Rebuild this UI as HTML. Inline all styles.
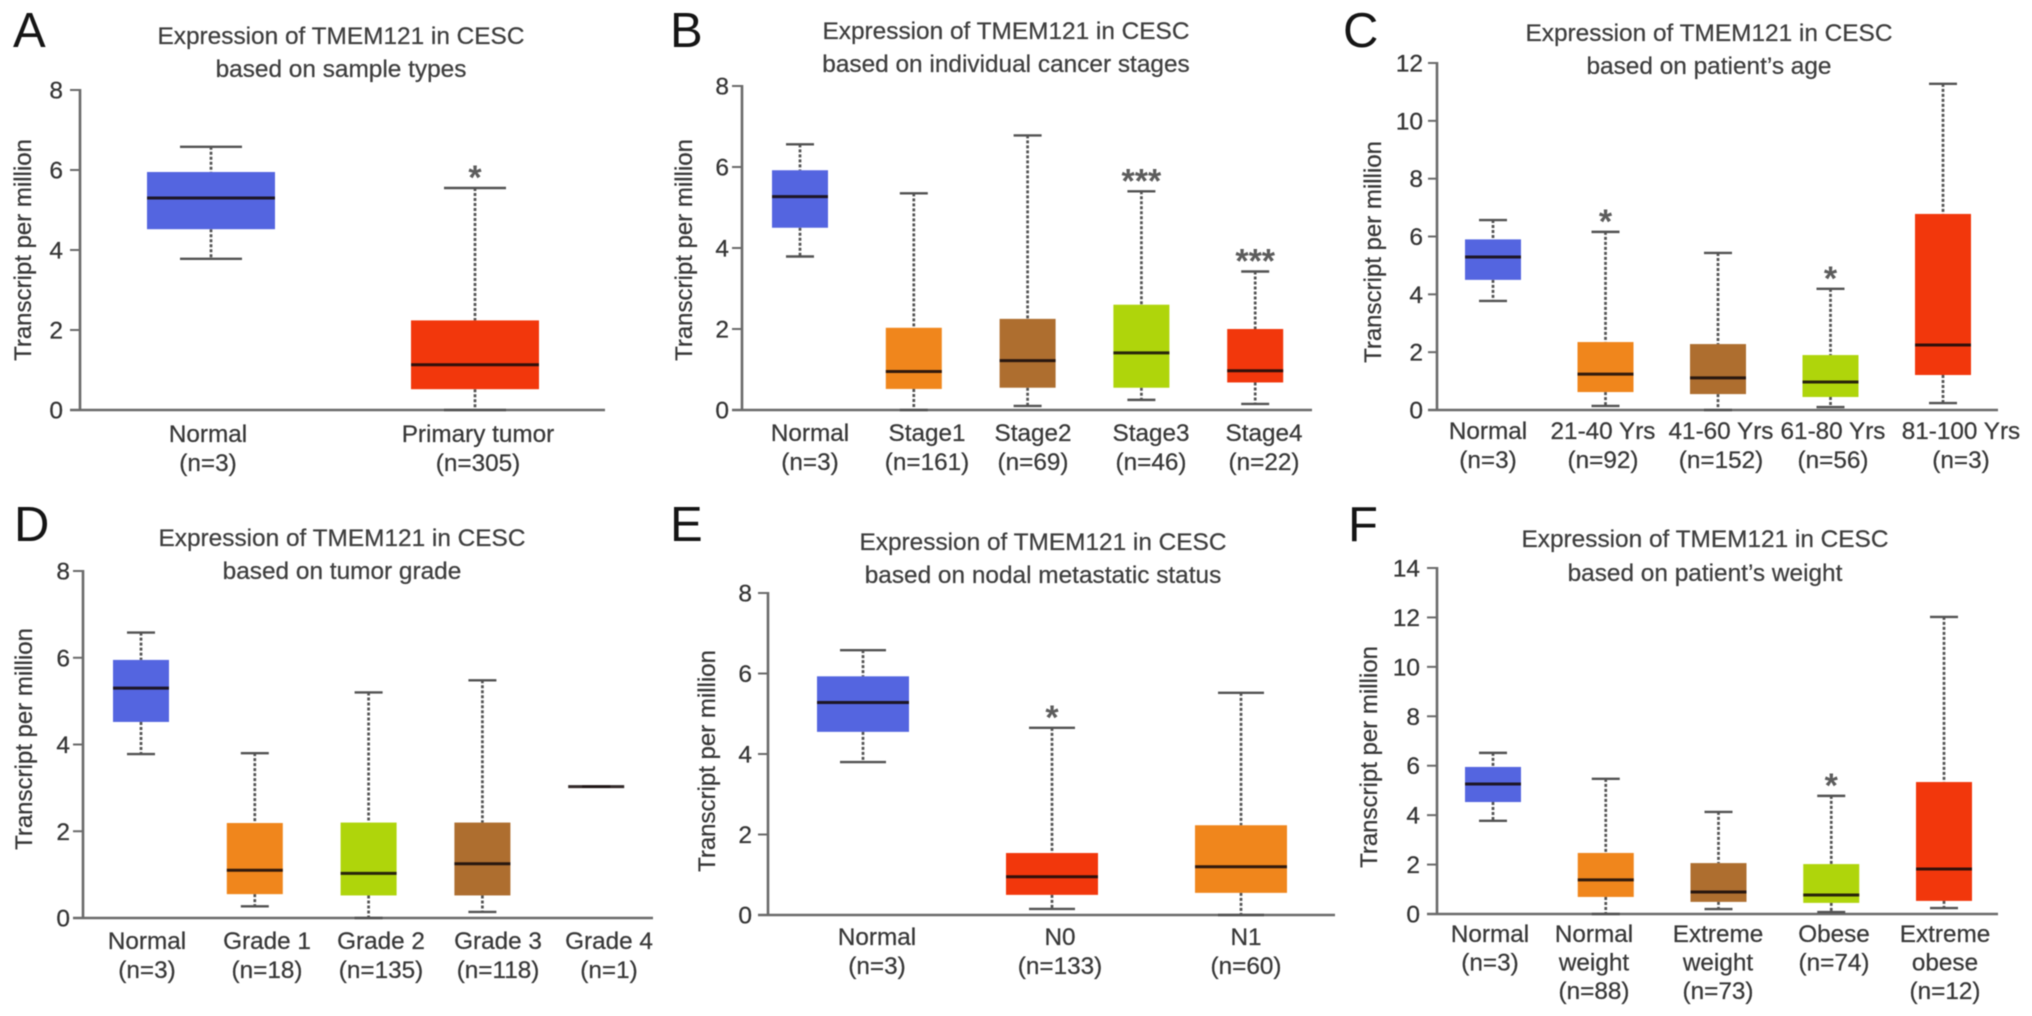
<!DOCTYPE html>
<html lang="en">
<head>
<meta charset="utf-8">
<title>Expression of TMEM121 in CESC</title>
<style>
  html, body { margin: 0; padding: 0; background: #ffffff; }
  body { width: 2032px; height: 1016px; overflow: hidden; }
  #figure { display: block; filter: blur(0.55px); }
  text { font-family: "Liberation Sans", Arial, sans-serif; }
  .title { font-size: 24.4px; fill: #3e3e3e; stroke: #3e3e3e; stroke-width: 0.25px; text-anchor: middle; }
  .letter { font-size: 49px; fill: #151515; }
  .ytitle { font-size: 24px; fill: #383838; stroke: #383838; stroke-width: 0.25px; text-anchor: middle; }
  .tick { font-size: 24.5px; fill: #353535; stroke: #353535; stroke-width: 0.25px; text-anchor: end; }
  .cat { font-size: 24.3px; fill: #383838; stroke: #383838; stroke-width: 0.25px; text-anchor: middle; }
  .star { font-size: 34px; font-weight: bold; fill: #5c5c5c; text-anchor: middle; }
</style>
</head>
<body>
<svg id="figure" xmlns="http://www.w3.org/2000/svg" width="2032" height="1016" viewBox="0 0 2032 1016">
  <g id="panel-a">
    <text class="letter" x="13" y="47">A</text>
    <text class="title" x="341" y="44">Expression of TMEM121 in CESC</text>
    <text class="title" x="341" y="77">based on sample types</text>
    <text class="ytitle" transform="translate(31 250) rotate(-90)">Transcript per million</text>
  </g>
  <g id="panel-b">
    <text class="letter" x="670" y="47">B</text>
    <text class="title" x="1006" y="39">Expression of TMEM121 in CESC</text>
    <text class="title" x="1006" y="72">based on individual cancer stages</text>
    <text class="ytitle" transform="translate(692 250) rotate(-90)">Transcript per million</text>
  </g>
  <g id="panel-c">
    <text class="letter" x="1343" y="47">C</text>
    <text class="title" x="1709" y="41">Expression of TMEM121 in CESC</text>
    <text class="title" x="1709" y="74">based on patient’s age</text>
    <text class="ytitle" transform="translate(1381 252) rotate(-90)">Transcript per million</text>
  </g>
  <g id="panel-d">
    <text class="letter" x="14" y="541">D</text>
    <text class="title" x="342" y="546">Expression of TMEM121 in CESC</text>
    <text class="title" x="342" y="579">based on tumor grade</text>
    <text class="ytitle" transform="translate(32 739) rotate(-90)">Transcript per million</text>
  </g>
  <g id="panel-e">
    <text class="letter" x="670" y="541">E</text>
    <text class="title" x="1043" y="550">Expression of TMEM121 in CESC</text>
    <text class="title" x="1043" y="583">based on nodal metastatic status</text>
    <text class="ytitle" transform="translate(715 761) rotate(-90)">Transcript per million</text>
  </g>
  <g id="panel-f">
    <text class="letter" x="1348" y="541">F</text>
    <text class="title" x="1705" y="547">Expression of TMEM121 in CESC</text>
    <text class="title" x="1705" y="581">based on patient’s weight</text>
    <text class="ytitle" transform="translate(1377 757) rotate(-90)">Transcript per million</text>
  </g>
</svg>
<script>
// ---- Panel A: sample types ----
const aCategories = [["Normal"], ["Primary tumor"]];
const aCounts = [3, 305];
const aHigh = [6.58, 5.55];
const aQ3 = [5.95, 2.24];
const aMedian = [5.3, 1.13];
const aQ1 = [4.52, 0.52];
const aLow = [3.78, 0];
const aStars = [0, 1];
const aTicks = [0, 2, 4, 6, 8];
const aColors = ["blue", "red"];

// ---- Panel B: cancer stages ----
const bCategories = [["Normal"], ["Stage1"], ["Stage2"], ["Stage3"], ["Stage4"]];
const bCounts = [3, 161, 69, 46, 22];
const bHigh = [6.56, 5.35, 6.78, 5.4, 3.42];
const bQ3 = [5.92, 2.03, 2.25, 2.6, 2.0];
const bMedian = [5.27, 0.95, 1.22, 1.41, 0.97];
const bQ1 = [4.5, 0.52, 0.55, 0.55, 0.68];
const bLow = [3.79, 0, 0.1, 0.25, 0.15];
const bStars = [0, 0, 0, 3, 3];
const bTicks = [0, 2, 4, 6, 8];
const bColors = ["blue", "orange", "brown", "lime", "red"];

// ---- Panel C: patient age ----
const cCategories = [["Normal"], ["21-40 Yrs"], ["41-60 Yrs"], ["61-80 Yrs"], ["81-100 Yrs"]];
const cCounts = [3, 92, 152, 56, 3];
const cHigh = [6.57, 6.16, 5.43, 4.19, 11.28];
const cQ3 = [5.9, 2.35, 2.28, 1.9, 6.78];
const cMedian = [5.29, 1.24, 1.11, 0.97, 2.25];
const cQ1 = [4.5, 0.62, 0.55, 0.45, 1.21];
const cLow = [3.77, 0.14, 0, 0.1, 0.24];
const cStars = [0, 1, 0, 1, 0];
const cTicks = [0, 2, 4, 6, 8, 10, 12];
const cColors = ["blue", "orange", "brown", "lime", "red"];

// ---- Panel D: tumor grade ----
const dCategories = [["Normal"], ["Grade 1"], ["Grade 2"], ["Grade 3"], ["Grade 4"]];
const dCounts = [3, 18, 135, 118, 1];
const dHigh = [6.58, 3.8, 5.2, 5.48, 3.03];
const dQ3 = [5.95, 2.19, 2.2, 2.2, 3.03];
const dMedian = [5.3, 1.1, 1.03, 1.25, 3.03];
const dQ1 = [4.52, 0.55, 0.52, 0.52, 3.03];
const dLow = [3.78, 0.27, 0, 0.14, 3.03];
const dStars = [0, 0, 0, 0, 0];
const dTicks = [0, 2, 4, 6, 8];
const dColors = ["blue", "orange", "lime", "brown", "none"];

// ---- Panel E: nodal metastatic status ----
const eCategories = [["Normal"], ["N0"], ["N1"]];
const eCounts = [3, 133, 60];
const eHigh = [6.58, 4.65, 5.52];
const eQ3 = [5.93, 1.54, 2.23];
const eMedian = [5.28, 0.95, 1.2];
const eQ1 = [4.55, 0.5, 0.55];
const eLow = [3.8, 0.15, 0];
const eStars = [0, 1, 0];
const eTicks = [0, 2, 4, 6, 8];
const eColors = ["blue", "red", "orange"];

// ---- Panel F: patient weight ----
const fCategories = [["Normal"], ["Normal", "weight"], ["Extreme", "weight"], ["Obese"], ["Extreme", "obese"]];
const fCounts = [3, 88, 73, 74, 12];
const fHigh = [6.52, 5.47, 4.13, 4.78, 12.02];
const fQ3 = [5.95, 2.47, 2.06, 2.02, 5.34];
const fMedian = [5.26, 1.38, 0.89, 0.77, 1.82];
const fQ1 = [4.53, 0.69, 0.49, 0.45, 0.53];
const fLow = [3.77, 0, 0.2, 0.08, 0.24];
const fStars = [0, 0, 0, 1, 0];
const fTicks = [0, 2, 4, 6, 8, 10, 12, 14];
const fColors = ["blue", "orange", "brown", "lime", "red"];

const palette = { blue: "#5465e0", orange: "#f0861c", brown: "#ae6e2f", lime: "#afd50b", red: "#f2370c", none: "none" };
const SVG_NS = "http://www.w3.org/2000/svg";

function make(parent, tag, attrs) {
  const el = document.createElementNS(SVG_NS, tag);
  for (const key in attrs) el.setAttribute(key, attrs[key]);
  parent.appendChild(el);
  return el;
}

function slug(text) {
  return String(text).toLowerCase().replace(/[^a-z0-9]+/g, "-");
}

function renderPanel(id, frame, series) {
  const root = document.getElementById(id);
  const yScale = v => frame.y0 - (v / frame.yMax) * (frame.y0 - frame.yTop);
  const xScale = i => frame.first + i * frame.step;
  const axisColor = "#6a6a6a";
  const markColor = "#525252";

  const yAxis = make(root, "line", { x1: frame.axisX, x2: frame.axisX, y1: yScale(frame.yMax) - 1, y2: frame.y0, stroke: axisColor, "stroke-width": 2.6 });
  
  

  const xAxis = make(root, "line", { x1: frame.tickStart, x2: frame.xEnd, y1: frame.y0, y2: frame.y0, stroke: axisColor, "stroke-width": 2.6 });
  
  

  series.ticks.forEach(t => {
    const mark = make(root, "line", { x1: frame.tickStart, x2: frame.axisX, y1: yScale(t), y2: yScale(t), stroke: axisColor, "stroke-width": 2 });
    
    
    const label = make(root, "text", { class: "tick", x: frame.tickLabelX, y: yScale(t) + 8.5 });
    label.textContent = t;
    
    
  });

  series.categories.forEach((lines, i) => {
    const name = slug(lines.join(" "));
    const cx = xScale(i);
    const group = make(root, "g", {});
    
    

    const upper = make(group, "line", { x1: cx, x2: cx, y1: yScale(series.high[i]), y2: yScale(series.q3[i]), stroke: markColor, "stroke-width": 2.7, "stroke-dasharray": "3 2" });
    
    

    const lower = make(group, "line", { x1: cx, x2: cx, y1: yScale(series.q1[i]), y2: yScale(series.low[i]), stroke: markColor, "stroke-width": 2.7, "stroke-dasharray": "3 2" });
    
    

    const capHigh = make(group, "line", { x1: cx - frame.capHalf, x2: cx + frame.capHalf, y1: yScale(series.high[i]), y2: yScale(series.high[i]), stroke: markColor, "stroke-width": 2.4 });
    
    

    const capLow = make(group, "line", { x1: cx - frame.capHalf, x2: cx + frame.capHalf, y1: yScale(series.low[i]), y2: yScale(series.low[i]), stroke: markColor, "stroke-width": 2.4 });
    
    

    const box = make(group, "rect", { x: cx - frame.boxHalf, width: frame.boxHalf * 2, y: yScale(series.q3[i]), height: Math.max(0, yScale(series.q1[i]) - yScale(series.q3[i])), fill: palette[series.colors[i]] });
    
    

    const median = make(group, "line", { x1: cx - frame.boxHalf, x2: cx + frame.boxHalf, y1: yScale(series.median[i]), y2: yScale(series.median[i]), stroke: "#160b0b", "stroke-opacity": 0.88, "stroke-width": 3 });
    
    

    if (series.stars[i] > 0) {
      const star = make(group, "text", { class: "star", x: cx, y: yScale(series.high[i]) + 1 });
      star.textContent = "*".repeat(series.stars[i]);
      
      
    }

    const label = make(root, "text", { class: "cat", x: frame.labelX[i], y: frame.labelY });
    
    
    lines.concat(["(n=" + series.counts[i] + ")"]).forEach((line, k) => {
      const row = make(label, "tspan", { x: frame.labelX[i], y: frame.labelY + k * frame.labelGap });
      row.textContent = line;
    });
  });
}

renderPanel("panel-a",
  { axisX: 80, tickStart: 70, xEnd: 605, y0: 410, yTop: 90, yMax: 8, first: 211, step: 264, boxHalf: 64, capHalf: 31, tickLabelX: 63, labelX: [208, 478], labelY: 442, labelGap: 29 },
  { categories: aCategories, counts: aCounts, high: aHigh, q3: aQ3, median: aMedian, q1: aQ1, low: aLow, stars: aStars, ticks: aTicks, colors: aColors });

renderPanel("panel-b",
  { axisX: 742, tickStart: 732, xEnd: 1312, y0: 410, yTop: 86, yMax: 8, first: 800, step: 113.8, boxHalf: 28, capHalf: 14, tickLabelX: 729, labelX: [810, 927, 1033, 1151, 1264], labelY: 441, labelGap: 29 },
  { categories: bCategories, counts: bCounts, high: bHigh, q3: bQ3, median: bMedian, q1: bQ1, low: bLow, stars: bStars, ticks: bTicks, colors: bColors });

renderPanel("panel-c",
  { axisX: 1437, tickStart: 1428, xEnd: 1998, y0: 410, yTop: 63, yMax: 12, first: 1493, step: 112.5, boxHalf: 28, capHalf: 14, tickLabelX: 1423, labelX: [1488, 1603, 1721, 1833, 1961], labelY: 439, labelGap: 29 },
  { categories: cCategories, counts: cCounts, high: cHigh, q3: cQ3, median: cMedian, q1: cQ1, low: cLow, stars: cStars, ticks: cTicks, colors: cColors });

renderPanel("panel-d",
  { axisX: 83, tickStart: 73, xEnd: 653, y0: 918, yTop: 571, yMax: 8, first: 141, step: 113.8, boxHalf: 28, capHalf: 14, tickLabelX: 70, labelX: [147, 267, 381, 498, 609], labelY: 949, labelGap: 29 },
  { categories: dCategories, counts: dCounts, high: dHigh, q3: dQ3, median: dMedian, q1: dQ1, low: dLow, stars: dStars, ticks: dTicks, colors: dColors });

renderPanel("panel-e",
  { axisX: 768, tickStart: 758, xEnd: 1335, y0: 915, yTop: 593, yMax: 8, first: 863, step: 189, boxHalf: 46, capHalf: 23, tickLabelX: 752, labelX: [877, 1060, 1246], labelY: 945, labelGap: 29 },
  { categories: eCategories, counts: eCounts, high: eHigh, q3: eQ3, median: eMedian, q1: eQ1, low: eLow, stars: eStars, ticks: eTicks, colors: eColors });

renderPanel("panel-f",
  { axisX: 1437, tickStart: 1427, xEnd: 1998, y0: 914, yTop: 568, yMax: 14, first: 1493, step: 112.75, boxHalf: 28, capHalf: 14, tickLabelX: 1420, labelX: [1490, 1594, 1718, 1834, 1945], labelY: 942, labelGap: 28.5 },
  { categories: fCategories, counts: fCounts, high: fHigh, q3: fQ3, median: fMedian, q1: fQ1, low: fLow, stars: fStars, ticks: fTicks, colors: fColors });
</script>
</body>
</html>
